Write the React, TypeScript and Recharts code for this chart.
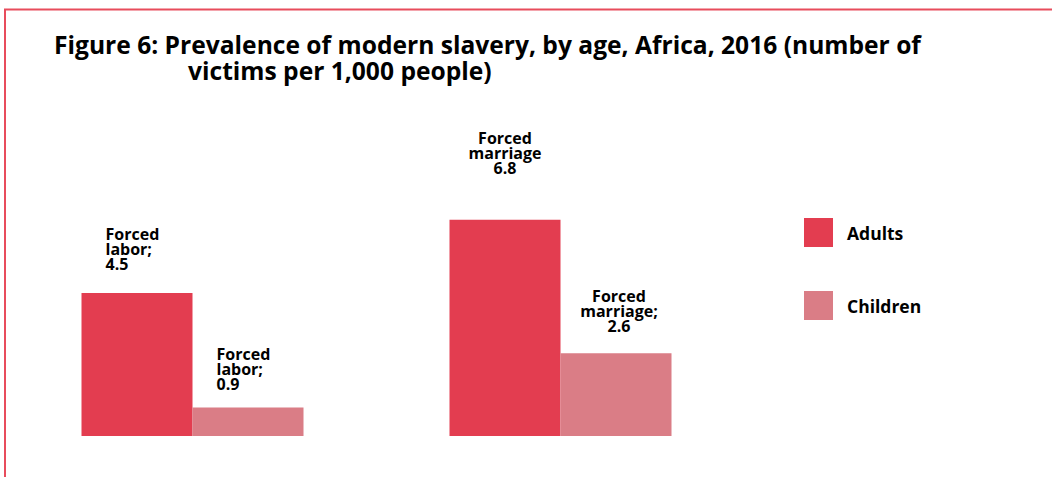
import { BarChart, Bar, XAxis, YAxis, LabelList } from 'recharts';

// values (victims per 1,000 people)
const categories = ['Forced labor', 'Forced marriage'];
const adultValues = [4.5, 6.8];
const childValues = [0.9, 2.6];
const adultLabelLines = [
  ['Forced', 'labor;', '4.5'],
  ['Forced', 'marriage', '6.8'],
];
const childLabelLines = [
  ['Forced', 'labor;', '0.9'],
  ['Forced', 'marriage;', '2.6'],
];
const seriesNames = ['Adults', 'Children'];
const titleLines = [
  'Figure 6: Prevalence of modern slavery, by age, Africa, 2016 (number of',
  'victims per 1,000 people)',
];

const data = categories.map((c, i) => ({
  category: c,
  adults: adultValues[i],
  children: childValues[i],
}));

const ADULT = '#E33D50';
const CHILD = '#DA7D86';
const BORDER = '#E84C5C';
const FONT = '"Open Sans", Lato, sans-serif';

// label placement per category: left-aligned or centred, and gap above the bar
type LabelStyle = { align: 'left' | 'middle'; dx: number; gap: number };
const adultLabelStyle: LabelStyle[] = [
  { align: 'left', dx: 24, gap: 23 },
  { align: 'middle', dx: 0, gap: 46 },
];
const childLabelStyle: LabelStyle[] = [
  { align: 'left', dx: 24, gap: 17 },
  { align: 'middle', dx: 3, gap: 21 },
];

const LINE = 15;

function makeLabel(lines: string[][], styles: LabelStyle[]) {
  return (props: any) => {
    const { x, y, width, index } = props;
    const st = styles[index];
    const rows = lines[index];
    const tx = st.align === 'left' ? x + st.dx : x + width / 2 + st.dx;
    const lastBase = y - st.gap;
    return (
      <text
        x={tx}
        fontFamily={FONT}
        fontWeight={700}
        fontSize={16}
        fill="#000"
        textAnchor={st.align === 'left' ? 'start' : 'middle'}
      >
        {rows.map((r, k) => (
          <tspan key={k} x={tx} y={lastBase - (rows.length - 1 - k) * LINE}>
            {r}
          </tspan>
        ))}
      </text>
    );
  };
}

function LegendBox() {
  const colors = [ADULT, CHILD];
  return (
    <div style={{ position: 'absolute', left: 804, top: 218, fontFamily: FONT, fontWeight: 700, fontSize: 17.5 }}>
      {seriesNames.map((n, i) => (
        <div key={n} style={{ display: 'flex', alignItems: 'center', height: 29, marginBottom: i === 0 ? 44 : 0 }}>
          <div style={{ width: 29, height: 29, background: colors[i] }} />
          <span style={{ marginLeft: 14 }}>{n}</span>
        </div>
      ))}
    </div>
  );
}

export default function App() {
  return (
    <div style={{ position: 'absolute', left: 0, top: 0, width: 1052, height: 477, background: '#fff' }}>
      <BarChart
        width={1052}
        height={477}
        data={data}
        margin={{ top: 118, right: 307.5, bottom: 41, left: 8.5 }}
        barCategoryGap={73}
        barGap={0}
      >
        <XAxis dataKey="category" hide />
        <YAxis domain={[0, 10]} hide />
        <Bar dataKey="adults" name="Adults" fill={ADULT} isAnimationActive={false}>
          <LabelList content={makeLabel(adultLabelLines, adultLabelStyle)} />
        </Bar>
        <Bar dataKey="children" name="Children" fill={CHILD} isAnimationActive={false}>
          <LabelList content={makeLabel(childLabelLines, childLabelStyle)} />
        </Bar>
      </BarChart>
      <LegendBox />
      <svg
        width={1052}
        height={477}
        style={{ position: 'absolute', left: 0, top: 0, pointerEvents: 'none' }}
      >
        <line x1={4} y1={9.5} x2={1052} y2={9.5} stroke={BORDER} strokeWidth={2} />
        <line x1={5} y1={9} x2={5} y2={477} stroke={BORDER} strokeWidth={2} />
        <text x={54} y={54} fontFamily={FONT} fontWeight={700} fontSize={24.6} fill="#000">
          {titleLines[0]}
        </text>
        <text x={188} y={80} fontFamily={FONT} fontWeight={700} fontSize={24.6} fill="#000">
          {titleLines[1]}
        </text>
      </svg>
    </div>
  );
}
